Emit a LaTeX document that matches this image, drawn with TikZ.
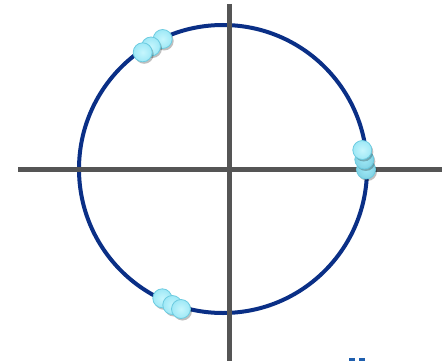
\documentclass[tikz,border=0pt]{standalone}
\usetikzlibrary{shadows}
\definecolor{ringblue}{HTML}{0A2F86}
\definecolor{axisgray}{HTML}{555555}
\definecolor{beadfill}{HTML}{9EE8F6}
\definecolor{beadlight}{HTML}{C6F6FD}
\definecolor{beadedge}{HTML}{6CCBE0}
\definecolor{textblue}{HTML}{1F5FAE}
\tikzset{
  ring/.style={draw=ringblue, line width=4pt},
  axisline/.style={draw=axisgray, line width=5pt},
  bead/.style={circle, minimum size=19pt, inner sep=0pt, draw=beadedge, line width=0.8pt,
    inner color=beadlight, outer color=beadfill,
    drop shadow={shadow xshift=1.5pt, shadow yshift=-2pt, opacity=0.25, fill=black}},
  beaddark/.style={bead, inner color=beadfill, outer color=beadedge!85}
}
\begin{document}
\begin{tikzpicture}[x=1pt,y=-1pt]
\useasboundingbox (0,0) rectangle (444,361);
\coordinate (O) at (223,169);
\draw[ring] (O) circle[radius=144];
\coordinate (xl) at (18,169);
\coordinate (xr) at (442,169);
\coordinate (yt) at (229.5,4);
\coordinate (yb) at (229.5,361);
\draw[axisline] (xl) -- (xr);
\draw[axisline] (yt) -- (yb);
% top-left cluster
\node[bead] (a3) at (162.7,39) {};
\node[bead] (a2) at (151,46.5) {};
\node[bead] (a1) at (142.7,52.3) {};
% right cluster
\node[beaddark] (b3) at (366,169.5) {};
\node[beaddark] (b2) at (364.3,159.5) {};
\node[bead] (b1) at (362.3,150) {};
% bottom cluster
\node[bead] (c1) at (162.3,298.3) {};
\node[bead] (c2) at (172.3,305) {};
\node[bead] (c3) at (181,309) {};
% cut-off blue glyph at bottom edge
\fill[textblue] (349,357.5) rectangle (355,361);
\fill[textblue] (359,357.5) rectangle (365,361);
\end{tikzpicture}
\end{document}
